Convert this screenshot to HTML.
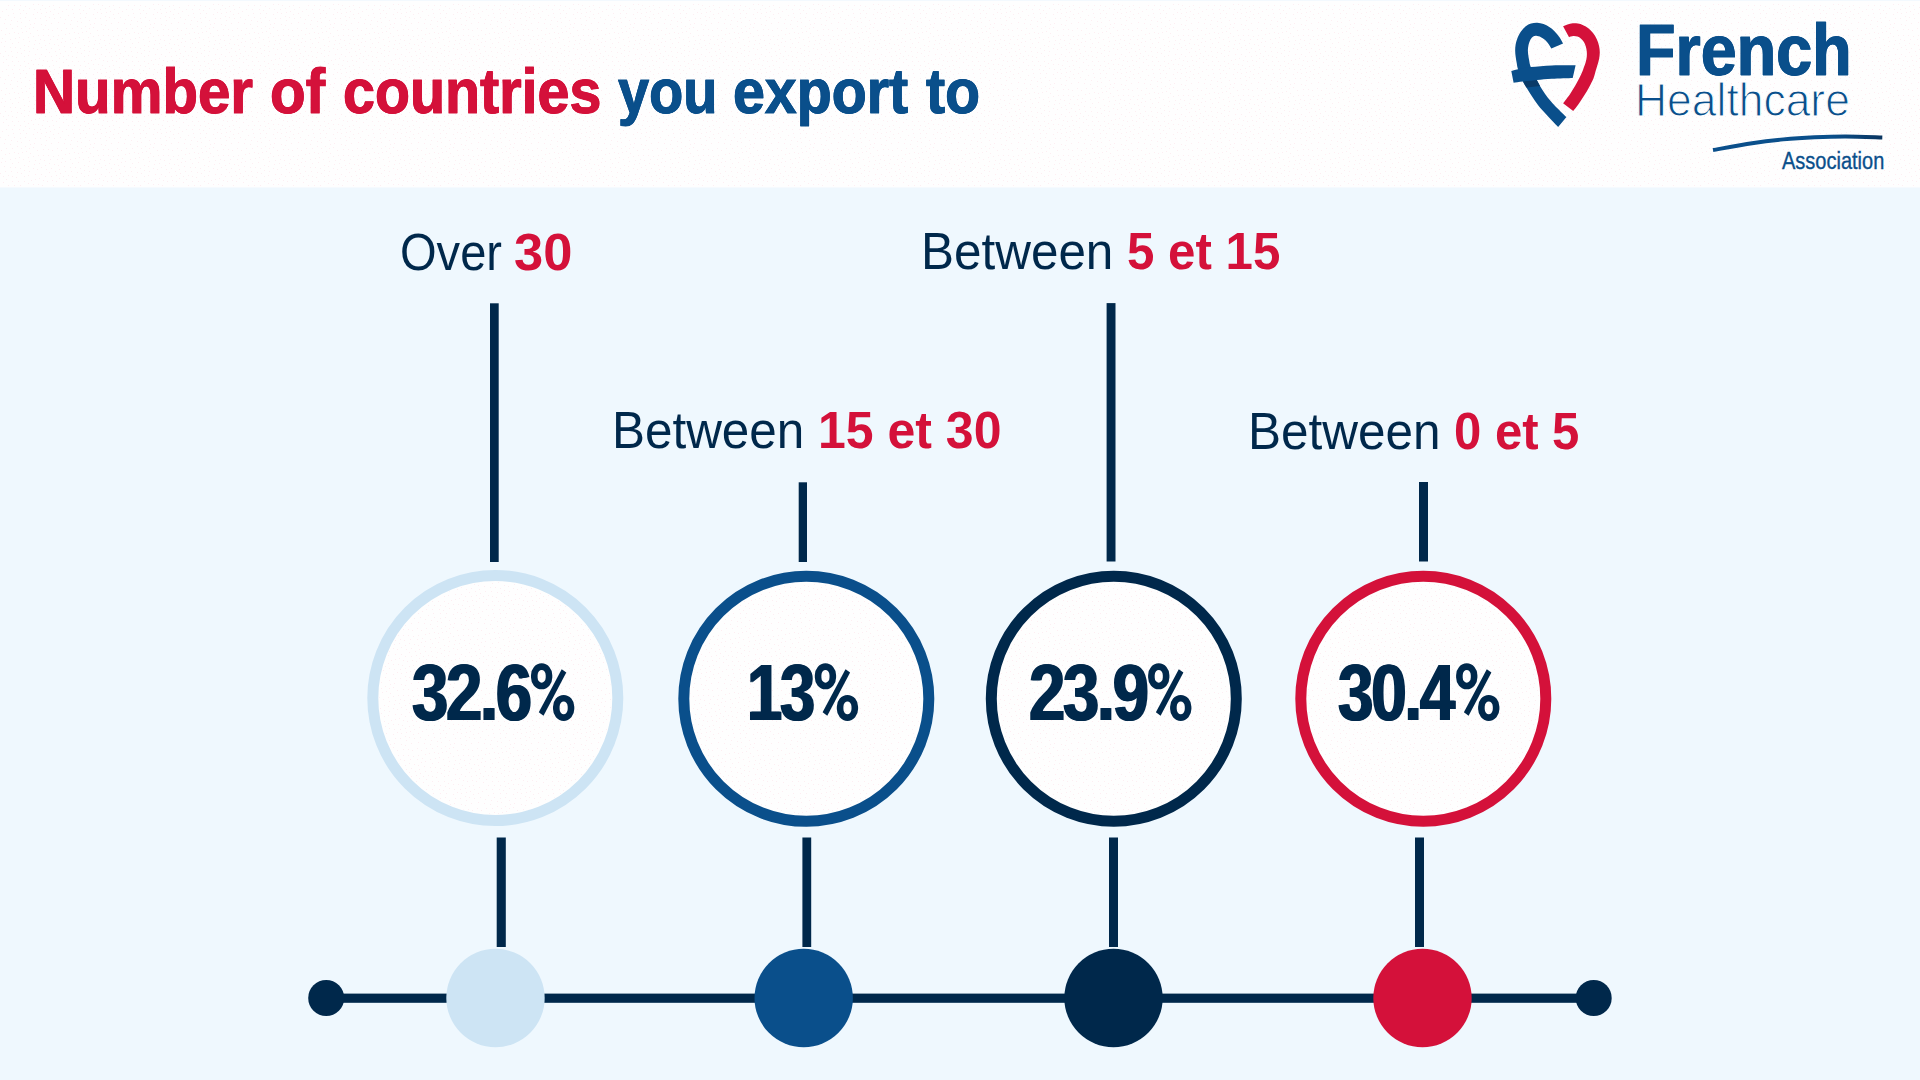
<!DOCTYPE html>
<html lang="en"><head><meta charset="utf-8"><title>Number of countries you export to</title>
<style>
html,body{margin:0;padding:0}
body{width:1920px;height:1080px;overflow:hidden;background:#eff8fe;font-family:"Liberation Sans",sans-serif;position:relative}
.header{position:absolute;left:0;top:0;width:1920px;height:187px;background:#fefefe}
svg{position:absolute;left:0;top:0}
.t{position:absolute;white-space:nowrap;transform-origin:0 0;display:block}
.hid{color:transparent;text-shadow:none}
</style></head><body>
<div class="header"></div>
<svg width="1920" height="1080" viewBox="0 0 1920 1080">
<defs><pattern id="dith" width="60" height="60" patternUnits="userSpaceOnUse"><g fill="#fdeef2"><rect x="28" y="55" width="1" height="1"/><rect x="35" y="54" width="1" height="1"/><rect x="59" y="49" width="1" height="1"/><rect x="29" y="28" width="1" height="1"/><rect x="37" y="12" width="1" height="1"/><rect x="11" y="51" width="1" height="1"/><rect x="40" y="39" width="1" height="1"/><rect x="50" y="11" width="1" height="1"/><rect x="6" y="28" width="1" height="1"/><rect x="19" y="9" width="1" height="1"/><rect x="5" y="34" width="1" height="1"/><rect x="51" y="56" width="1" height="1"/><rect x="44" y="40" width="1" height="1"/><rect x="2" y="38" width="1" height="1"/><rect x="41" y="47" width="1" height="1"/><rect x="10" y="39" width="1" height="1"/><rect x="0" y="53" width="1" height="1"/><rect x="33" y="4" width="1" height="1"/><rect x="3" y="2" width="1" height="1"/><rect x="12" y="56" width="1" height="1"/><rect x="15" y="38" width="1" height="1"/><rect x="29" y="20" width="1" height="1"/><rect x="28" y="37" width="1" height="1"/><rect x="33" y="14" width="1" height="1"/><rect x="40" y="18" width="1" height="1"/><rect x="31" y="0" width="1" height="1"/><rect x="42" y="5" width="1" height="1"/><rect x="29" y="41" width="1" height="1"/><rect x="17" y="26" width="1" height="1"/><rect x="35" y="59" width="1" height="1"/><rect x="53" y="5" width="1" height="1"/><rect x="45" y="16" width="1" height="1"/><rect x="20" y="48" width="1" height="1"/><rect x="14" y="32" width="1" height="1"/><rect x="18" y="1" width="1" height="1"/><rect x="49" y="6" width="1" height="1"/><rect x="25" y="6" width="1" height="1"/><rect x="54" y="18" width="1" height="1"/><rect x="43" y="0" width="1" height="1"/><rect x="13" y="13" width="1" height="1"/><rect x="59" y="58" width="1" height="1"/><rect x="24" y="45" width="1" height="1"/><rect x="25" y="26" width="1" height="1"/><rect x="49" y="43" width="1" height="1"/><rect x="17" y="21" width="1" height="1"/><rect x="5" y="19" width="1" height="1"/><rect x="59" y="7" width="1" height="1"/><rect x="8" y="15" width="1" height="1"/><rect x="29" y="51" width="1" height="1"/><rect x="43" y="35" width="1" height="1"/><rect x="12" y="28" width="1" height="1"/><rect x="46" y="49" width="1" height="1"/><rect x="41" y="24" width="1" height="1"/><rect x="26" y="13" width="1" height="1"/><rect x="0" y="17" width="1" height="1"/><rect x="55" y="51" width="1" height="1"/><rect x="56" y="1" width="1" height="1"/><rect x="21" y="53" width="1" height="1"/><rect x="23" y="39" width="1" height="1"/><rect x="29" y="8" width="1" height="1"/><rect x="37" y="30" width="1" height="1"/><rect x="53" y="36" width="1" height="1"/><rect x="8" y="55" width="1" height="1"/><rect x="40" y="9" width="1" height="1"/><rect x="46" y="12" width="1" height="1"/><rect x="10" y="47" width="1" height="1"/><rect x="12" y="43" width="1" height="1"/><rect x="24" y="56" width="1" height="1"/><rect x="15" y="47" width="1" height="1"/><rect x="45" y="25" width="1" height="1"/><rect x="18" y="33" width="1" height="1"/><rect x="41" y="54" width="1" height="1"/><rect x="58" y="13" width="1" height="1"/><rect x="47" y="1" width="1" height="1"/><rect x="2" y="11" width="1" height="1"/><rect x="33" y="36" width="1" height="1"/><rect x="8" y="5" width="1" height="1"/><rect x="57" y="28" width="1" height="1"/><rect x="1" y="30" width="1" height="1"/><rect x="58" y="22" width="1" height="1"/><rect x="4" y="46" width="1" height="1"/><rect x="34" y="23" width="1" height="1"/><rect x="45" y="8" width="1" height="1"/><rect x="21" y="22" width="1" height="1"/><rect x="38" y="4" width="1" height="1"/><rect x="33" y="48" width="1" height="1"/><rect x="16" y="57" width="1" height="1"/><rect x="51" y="48" width="1" height="1"/><rect x="20" y="13" width="1" height="1"/><rect x="17" y="52" width="1" height="1"/><rect x="12" y="1" width="1" height="1"/><rect x="51" y="23" width="1" height="1"/><rect x="52" y="30" width="1" height="1"/><rect x="14" y="17" width="1" height="1"/><rect x="34" y="44" width="1" height="1"/><rect x="14" y="5" width="1" height="1"/><rect x="41" y="13" width="1" height="1"/><rect x="58" y="45" width="1" height="1"/><rect x="22" y="32" width="1" height="1"/><rect x="49" y="17" width="1" height="1"/><rect x="9" y="33" width="1" height="1"/><rect x="35" y="18" width="1" height="1"/><rect x="35" y="40" width="1" height="1"/><rect x="58" y="35" width="1" height="1"/><rect x="57" y="39" width="1" height="1"/><rect x="54" y="9" width="1" height="1"/><rect x="24" y="1" width="1" height="1"/><rect x="30" y="33" width="1" height="1"/><rect x="11" y="20" width="1" height="1"/><rect x="48" y="35" width="1" height="1"/><rect x="43" y="29" width="1" height="1"/><rect x="5" y="51" width="1" height="1"/><rect x="56" y="55" width="1" height="1"/><rect x="10" y="24" width="1" height="1"/><rect x="18" y="42" width="1" height="1"/><rect x="46" y="20" width="1" height="1"/><rect x="6" y="59" width="1" height="1"/><rect x="39" y="43" width="1" height="1"/><rect x="20" y="5" width="1" height="1"/><rect x="20" y="18" width="1" height="1"/><rect x="24" y="50" width="1" height="1"/><rect x="34" y="9" width="1" height="1"/><rect x="48" y="29" width="1" height="1"/><rect x="4" y="23" width="1" height="1"/><rect x="6" y="9" width="1" height="1"/><rect x="45" y="45" width="1" height="1"/><rect x="28" y="46" width="1" height="1"/><rect x="38" y="35" width="1" height="1"/><rect x="54" y="44" width="1" height="1"/><rect x="33" y="27" width="1" height="1"/><rect x="5" y="41" width="1" height="1"/><rect x="12" y="9" width="1" height="1"/><rect x="25" y="17" width="1" height="1"/><rect x="45" y="56" width="1" height="1"/><rect x="53" y="14" width="1" height="1"/><rect x="30" y="24" width="1" height="1"/><rect x="37" y="49" width="1" height="1"/><rect x="1" y="42" width="1" height="1"/><rect x="21" y="28" width="1" height="1"/><rect x="26" y="31" width="1" height="1"/><rect x="19" y="37" width="1" height="1"/><rect x="50" y="39" width="1" height="1"/><rect x="49" y="52" width="1" height="1"/><rect x="28" y="3" width="1" height="1"/><rect x="23" y="10" width="1" height="1"/><rect x="39" y="58" width="1" height="1"/><rect x="3" y="56" width="1" height="1"/><rect x="52" y="0" width="1" height="1"/></g></pattern></defs>
<rect x="0" y="4" width="1920" height="182" fill="url(#dith)"/>
<rect x="0" y="0" width="1920" height="1" fill="#f3f9fe"/>
<rect x="0" y="187" width="1920" height="1" fill="#f6fafe"/>
<rect x="490" y="303.3" width="8.7" height="258.7" fill="#00284b"/>
<rect x="798.7" y="482.3" width="8.3" height="79.7" fill="#00284b"/>
<rect x="1106.6" y="303.1" width="8.9" height="258.4" fill="#00284b"/>
<rect x="1419" y="482" width="9.0" height="79.5" fill="#00284b"/>
<rect x="496.7" y="837.5" width="9.1" height="109.5" fill="#00284b"/>
<rect x="802.4" y="837.5" width="8.8" height="109.5" fill="#00284b"/>
<rect x="1109" y="837.5" width="9.0" height="109.5" fill="#00284b"/>
<rect x="1415" y="837.5" width="9.0" height="109.5" fill="#00284b"/>
<rect x="326" y="993.6" width="1268" height="9.2" fill="#00284b"/>
<circle cx="326.2" cy="998" r="18" fill="#00284b"/>
<circle cx="1593.7" cy="998" r="18" fill="#00284b"/>
<circle cx="495.5" cy="998" r="49.2" fill="#cde4f4"/>
<circle cx="803.7" cy="998" r="49.2" fill="#0a4f8b"/>
<circle cx="1113.5" cy="998" r="49.2" fill="#00284b"/>
<circle cx="1422.5" cy="998" r="49.2" fill="#d4113a"/>
<circle cx="495.3" cy="698" r="122.5" fill="#fefefe" stroke="#cde4f4" stroke-width="11"/>
<circle cx="495.3" cy="698" r="116" fill="url(#dith)"/>
<circle cx="806.3" cy="698.8" r="122.5" fill="#fefefe" stroke="#0a4f8b" stroke-width="11"/>
<circle cx="806.3" cy="698.8" r="116" fill="url(#dith)"/>
<circle cx="1113.8" cy="698.7" r="122.5" fill="#fefefe" stroke="#00284b" stroke-width="11"/>
<circle cx="1113.8" cy="698.7" r="116" fill="url(#dith)"/>
<circle cx="1423.3" cy="698.7" r="122.5" fill="#fefefe" stroke="#d4113a" stroke-width="11"/>
<circle cx="1423.3" cy="698.7" r="116" fill="url(#dith)"/>
<defs><g id="pct" fill="none" stroke="#00284b" stroke-width="6.6"><rect x="3.3" y="-53" width="14.7" height="19.4" rx="7.35" ry="8.6"/><rect x="25.3" y="-21.4" width="14.7" height="19.4" rx="7.35" ry="8.6"/><path d="M30.7 -50.3L35.3 -47.1L12.5 -3.8L7.8 -7.3Z" fill="#00284b" stroke="none"/></g></defs>
<use href="#pct" x="531.0" y="719.6"/>
<use href="#pct" x="814.8" y="719.6"/>
<use href="#pct" x="1148.1" y="719.6"/>
<use href="#pct" x="1456.1" y="719.6"/>
<g id="logo">
<path d="M1563.07 43.39C1562.51 42.39 1561.12 39.44 1559.69 37.40C1558.26 35.36 1556.22 32.89 1554.48 31.15C1552.74 29.41 1551.09 28.15 1549.27 26.98C1547.45 25.81 1545.54 24.80 1543.54 24.11C1541.54 23.41 1539.37 22.90 1537.29 22.81C1535.21 22.72 1532.95 23.02 1531.04 23.59C1529.13 24.16 1527.48 24.94 1525.83 26.20C1524.18 27.46 1522.54 29.20 1521.15 31.15C1519.76 33.10 1518.41 35.75 1517.50 37.92C1516.59 40.09 1516.07 42.09 1515.68 44.17C1515.29 46.25 1515.16 48.34 1515.16 50.42C1515.16 52.50 1515.42 54.59 1515.68 56.67C1515.94 58.75 1516.33 60.84 1516.72 62.92C1517.11 65.00 1516.98 66.09 1518.02 69.17C1519.06 72.25 1521.49 78.25 1522.97 81.42C1524.45 84.59 1525.36 85.67 1526.88 88.19C1528.40 90.71 1530.17 93.66 1532.08 96.52C1533.99 99.38 1536.07 102.52 1538.33 105.38C1540.59 108.24 1543.37 111.19 1545.63 113.71C1547.89 116.23 1549.80 118.27 1551.88 120.48C1553.96 122.69 1557.09 125.91 1558.13 126.99L1566.46 117.09C1564.90 115.57 1559.68 110.63 1557.08 107.98C1554.47 105.33 1552.83 103.55 1550.83 101.21C1548.83 98.87 1546.83 96.35 1545.10 93.92C1543.37 91.49 1541.81 88.93 1540.42 86.63C1539.03 84.33 1538.38 83.37 1536.77 80.11C1535.16 76.85 1532.04 70.29 1530.78 67.08C1529.52 63.87 1529.65 62.91 1529.22 60.83C1528.79 58.75 1528.40 56.49 1528.18 54.58C1527.96 52.67 1527.83 51.12 1527.92 49.38C1528.01 47.65 1528.27 45.82 1528.70 44.17C1529.13 42.52 1529.78 40.74 1530.52 39.48C1531.26 38.22 1532.18 37.22 1533.13 36.61C1534.09 36.00 1534.95 35.74 1536.25 35.83C1537.55 35.92 1539.47 36.45 1540.94 37.14C1542.41 37.84 1543.80 38.83 1545.10 40.00C1546.40 41.17 1547.71 42.74 1548.75 44.17C1549.79 45.60 1550.92 47.85 1551.35 48.59Z" fill="#0a4f8b"/>
<path d="M1523 81.4L1536.8 80.1L1540 86L1526.4 87.6Z" fill="#0a3a68"/>
<path d="M1511.30 71.00C1512.42 70.70 1514.75 69.85 1518.00 69.20C1521.25 68.55 1525.15 67.72 1530.80 67.10C1536.45 66.48 1544.43 65.80 1551.90 65.50C1559.37 65.20 1571.65 65.33 1575.60 65.30L1572.70 78.00C1569.23 78.13 1557.88 78.45 1551.90 78.80C1545.92 79.15 1541.62 79.67 1536.80 80.10C1531.98 80.53 1526.87 80.97 1523.00 81.40C1519.13 81.83 1515.17 82.48 1513.60 82.70Z" fill="#0a4f8b"/>
<path d="M1563.07 26.20C1563.81 25.90 1565.89 24.86 1567.50 24.38C1569.11 23.90 1570.97 23.46 1572.71 23.33C1574.45 23.20 1576.18 23.29 1577.92 23.59C1579.66 23.89 1581.40 24.38 1583.13 25.16C1584.87 25.94 1586.68 26.98 1588.33 28.28C1589.98 29.58 1591.63 31.19 1593.02 32.97C1594.41 34.75 1595.67 36.83 1596.67 38.96C1597.67 41.09 1598.49 43.47 1599.01 45.73C1599.53 47.99 1599.79 50.24 1599.79 52.50C1599.79 54.76 1599.40 57.19 1599.01 59.27C1598.62 61.35 1598.01 63.05 1597.45 65.00C1596.89 66.95 1596.28 68.77 1595.63 70.99C1594.98 73.20 1594.58 75.68 1593.54 78.29C1592.50 80.90 1590.94 83.77 1589.38 86.63C1587.82 89.49 1585.99 92.53 1584.17 95.48C1582.35 98.43 1580.26 101.73 1578.44 104.33C1576.62 106.93 1574.10 109.97 1573.23 111.10L1563.07 103.29C1564.24 101.73 1568.06 96.87 1570.10 93.92C1572.14 90.97 1573.75 88.27 1575.31 85.58C1576.87 82.89 1578.27 80.20 1579.48 77.77C1580.69 75.34 1581.82 72.87 1582.60 71.00C1583.38 69.13 1583.65 68.08 1584.17 66.56C1584.69 65.04 1585.30 63.53 1585.73 61.88C1586.16 60.23 1586.60 58.41 1586.77 56.67C1586.94 54.93 1586.94 53.20 1586.77 51.46C1586.60 49.72 1586.21 47.81 1585.73 46.25C1585.25 44.69 1584.69 43.34 1583.91 42.08C1583.13 40.82 1582.12 39.61 1581.04 38.70C1579.95 37.79 1578.70 37.05 1577.40 36.61C1576.10 36.17 1574.62 36.00 1573.23 36.09C1571.84 36.18 1569.75 36.97 1569.06 37.14Z" fill="#d4113a"/>
<defs><linearGradient id="swg" x1="1713" x2="1882" y1="0" y2="0" gradientUnits="userSpaceOnUse"><stop offset="0" stop-color="#0a4f8b"/><stop offset="0.7" stop-color="#0a4f8b"/><stop offset="1" stop-color="#0a3560"/></linearGradient></defs>
<path d="M1713.0 150.0C1719.52 148.87 1740.38 144.97 1752.10 143.20C1763.82 141.43 1772.88 140.38 1783.30 139.40C1793.72 138.42 1804.18 137.78 1814.60 137.30C1825.02 136.82 1834.52 136.47 1845.80 136.50C1857.08 136.53 1876.22 137.33 1882.30 137.50" fill="none" stroke="url(#swg)" stroke-width="3.9"/>
</g>
</svg>
<span class="t " style="left:33.25px;top:61.16px;font-size:62.28px;line-height:62.28px;font-weight:700;color:#d4113a;transform:scaleX(0.9353);text-shadow:0.45px 0 0 currentColor,-0.45px 0 0 currentColor;-webkit-text-stroke:0.90px currentColor;">Number<span class="hid"> </span></span>
<span class="t " style="left:269.76px;top:61.16px;font-size:62.28px;line-height:62.28px;font-weight:700;color:#d4113a;transform:scaleX(0.9370);text-shadow:0.45px 0 0 currentColor,-0.45px 0 0 currentColor;-webkit-text-stroke:0.90px currentColor;">of<span class="hid"> </span></span>
<span class="t " style="left:342.79px;top:61.16px;font-size:62.28px;line-height:62.28px;font-weight:700;color:#d4113a;transform:scaleX(0.9219);text-shadow:0.45px 0 0 currentColor,-0.45px 0 0 currentColor;-webkit-text-stroke:0.90px currentColor;">countries<span class="hid"> </span></span>
<span class="t " style="left:618.03px;top:61.16px;font-size:62.28px;line-height:62.28px;font-weight:700;color:#0a4f8b;transform:scaleX(0.8982);text-shadow:0.45px 0 0 currentColor,-0.45px 0 0 currentColor;-webkit-text-stroke:0.90px currentColor;">you<span class="hid"> </span></span>
<span class="t " style="left:732.99px;top:61.16px;font-size:62.28px;line-height:62.28px;font-weight:700;color:#0a4f8b;transform:scaleX(0.9204);text-shadow:0.45px 0 0 currentColor,-0.45px 0 0 currentColor;-webkit-text-stroke:0.90px currentColor;">export<span class="hid"> </span></span>
<span class="t " style="left:926.13px;top:61.16px;font-size:62.28px;line-height:62.28px;font-weight:700;color:#0a4f8b;transform:scaleX(0.9200);text-shadow:0.45px 0 0 currentColor,-0.45px 0 0 currentColor;-webkit-text-stroke:0.90px currentColor;">to<span class="hid"> </span></span>
<span class="t " style="left:400.17px;top:226.65px;font-size:51.31px;line-height:51.31px;font-weight:400;color:#00284b;transform:scaleX(0.9175);">Over<span class="hid"> </span></span>
<span class="t " style="left:513.97px;top:227.05px;font-size:51.22px;line-height:51.22px;font-weight:700;color:#d4113a;transform:scaleX(1.0248);">30</span>
<span class="t " style="left:611.65px;top:404.65px;font-size:51.31px;line-height:51.31px;font-weight:400;color:#00284b;transform:scaleX(0.9634);">Between<span class="hid"> </span></span>
<span class="t " style="left:817.55px;top:404.65px;font-size:51.31px;line-height:51.31px;font-weight:700;color:#d4113a;transform:scaleX(0.9747);">15 et 30</span>
<span class="t " style="left:920.85px;top:226.49px;font-size:51.02px;line-height:51.02px;font-weight:400;color:#00284b;transform:scaleX(0.9689);">Between<span class="hid"> </span></span>
<span class="t " style="left:1126.86px;top:226.49px;font-size:51.02px;line-height:51.02px;font-weight:700;color:#d4113a;transform:scaleX(0.9653);">5 et 15</span>
<span class="t " style="left:1248.34px;top:405.72px;font-size:51.16px;line-height:51.16px;font-weight:400;color:#00284b;transform:scaleX(0.9677);">Between<span class="hid"> </span></span>
<span class="t " style="left:1453.56px;top:405.72px;font-size:51.16px;line-height:51.16px;font-weight:700;color:#d4113a;transform:scaleX(0.9585);">0 et 5</span>
<span class="t " style="left:412.35px;top:652.52px;font-size:79.89px;line-height:79.89px;font-weight:700;color:#00284b;transform:scaleX(0.8160);letter-spacing:-0.035em;text-shadow:1.20px 0 0 currentColor,-1.20px 0 0 currentColor;">32.6<span class="hid">%</span></span>
<span class="t " style="left:746.56px;top:652.52px;font-size:79.89px;line-height:79.89px;font-weight:700;color:#00284b;transform:scaleX(0.7921);letter-spacing:-0.035em;text-shadow:1.20px 0 0 currentColor,-1.20px 0 0 currentColor;">13<span class="hid">%</span></span>
<span class="t " style="left:1028.62px;top:652.52px;font-size:79.89px;line-height:79.89px;font-weight:700;color:#00284b;transform:scaleX(0.8152);letter-spacing:-0.035em;text-shadow:1.20px 0 0 currentColor,-1.20px 0 0 currentColor;">23.9<span class="hid">%</span></span>
<span class="t " style="left:1337.86px;top:652.52px;font-size:79.89px;line-height:79.89px;font-weight:700;color:#00284b;transform:scaleX(0.7976);letter-spacing:-0.035em;text-shadow:1.20px 0 0 currentColor,-1.20px 0 0 currentColor;">30.4<span class="hid">%</span></span>
<span class="t " style="left:1635.55px;top:14.15px;font-size:72.89px;line-height:72.89px;font-weight:700;color:#0a4f8b;transform:scaleX(0.8875);text-shadow:0.60px 0 0 currentColor,-0.60px 0 0 currentColor;-webkit-text-stroke:1.00px currentColor;">French</span>
<span class="t " style="left:1635.25px;top:78.28px;font-size:45.64px;line-height:45.64px;font-weight:400;color:#0a4f8b;transform:scaleX(0.9738);-webkit-text-stroke:1.1px #fefefe;">Healthcare</span>
<span class="t " style="left:1782.25px;top:150.01px;font-size:23.47px;line-height:23.47px;font-weight:400;color:#0a4f8b;transform:scaleX(0.8526);-webkit-text-stroke:0.35px #0a4f8b;">Association</span>
</body></html>
